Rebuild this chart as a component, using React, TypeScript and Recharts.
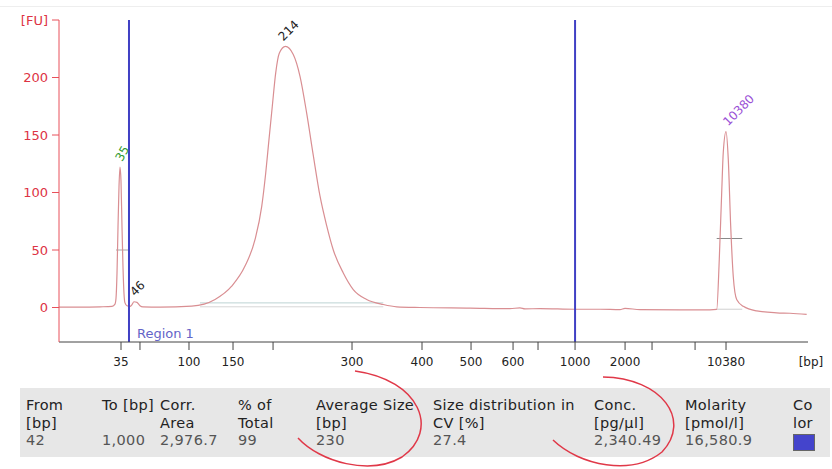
import {
  LineChart,
  Line,
  XAxis,
  YAxis,
  ReferenceLine,
  ReferenceDot,
} from "recharts";

// migration time [s] and fluorescence [FU]
const times = [
  40.0, 42.52, 44.93, 46.37, 46.73, 46.85, 46.97, 47.09, 47.21, 47.33, 47.45, 47.57, 47.69, 47.81,
  47.93, 48.17, 48.53, 48.77, 49.01, 49.37, 49.73, 50.09, 52.14, 55.95, 58.75, 60.75, 62.35, 63.55,
  64.36, 64.84, 65.23, 65.63, 66.04, 66.47, 67.2, 68.15, 68.96, 69.76, 70.56, 71.36, 72.17, 72.96,
  74.16, 75.36, 76.97, 78.97, 80.58, 83.38, 89.39, 94.19, 95.39, 95.99, 97.8, 102.0, 105.01, 107.41,
  108.01, 109.81, 114.62, 118.22, 119.03, 119.34, 119.63, 119.82, 120.15, 120.42, 120.71, 121.02,
  121.43, 122.23, 123.84, 126.24, 127.84, 129.84,
];
const fluorescence = [
  0.3, 0.3, 0.6, 1, 3, 8, 30, 70, 105, 122, 110, 70, 35, 12,
  4, 1.5, 1, 2.5, 5, 4.5, 1.5, 0.5, 0.3, 1.2, 7, 18.5, 36, 59,
  88, 117, 146, 175, 204, 221, 227, 220, 201, 169, 132, 97, 71, 50,
  30, 15.6, 7, 2.6, 0.6, 0, -0.5, -1, -0.3, -1.2, -1, -1.5, -1.5, -1.8,
  -0.8, -1.8, -2, -2, -1.7, 42, 100, 135, 153, 129, 71, 27,
  7, 1, -3, -4.6, -5, -6,
];

// ladder sizes and where they sit on the time axis
const ladderTimes = [47.45, 49.73, 55.62, 60.91, 65.72, 75.21, 83.62, 89.51, 94.56, 97.56, 102.01, 108.02, 111.26, 116.43, 120.15];
const ladderLabels = ["35", "", "100", "150", "", "300", "400", "500", "600", "", "1000", "2000", "", "", "10380"];

const yTicks = [0, 50, 100, 150, 200, 250];

const peakTimes = [47.33, 49.01, 67.2, 120.15];
const peakValues = [122, 5, 227, 153];
const peakLabels = ["35", "46", "214", "10380"];
const peakColors = ["#2e9a2e", "#222222", "#222222", "#9a4fd6"];
const peakAngles = [-60, -45, -45, -45];
const peakShift = [2, 1, -2, 2];

const regionBounds = [48.41, 102.01];

// half height markers and baselines
const markerSegments = [
  { x1: 46.85, x2: 48.53, y: 50, color: "#a8a8a8" },
  { x1: 119.03, x2: 122.1, y: 60, color: "#8a8a8a" },
  { x1: 56.94, x2: 78.97, y: 4, color: "#bcd3d3" },
  { x1: 56.94, x2: 78.97, y: 0.6, color: "#d6d6d6" },
  { x1: 119.03, x2: 122.1, y: -1.5, color: "#d0d0d0" },
];

const tableHeaders = [
  ["From", "[bp]"],
  ["To [bp]", ""],
  ["Corr.", "Area"],
  ["% of", "Total"],
  ["Average Size", "[bp]"],
  ["Size distribution in", "CV [%]"],
  ["Conc.", "[pg/µl]"],
  ["Molarity", "[pmol/l]"],
  ["Co", "lor"],
];
const tableValues = ["42", "1,000", "2,976.7", "99", "230", "27.4", "2,340.49", "16,580.9", ""];
const columnLeft = [26, 102, 160, 238, 316, 433, 594, 685, 793];

const data = times.map((t, i) => ({ t, fu: fluorescence[i] }));

const FONT = "'DejaVu Sans', Verdana, sans-serif";

export default function App() {
  return (
    <div style={{ position: "absolute", left: 0, top: 0, width: 832, height: 469, background: "#fff", fontFamily: FONT }}>
      <div style={{ position: "absolute", left: 0, top: 6, width: 832, borderTop: "1px solid #eeeeee" }} />
      <LineChart width={832} height={380} data={data} margin={{ top: 20, right: 24, left: 0, bottom: 0 }}>
        <XAxis
          type="number"
          dataKey="t"
          domain={[40, 130]}
          ticks={ladderTimes}
          interval={0}
          tickFormatter={(v: number) => ladderLabels[ladderTimes.indexOf(v)] ?? ""}
          tickSize={8}
          tickMargin={7}
          height={38}
          stroke="#444"
          tick={{ fill: "#222", fontSize: 12, fontFamily: FONT }}
          allowDataOverflow
          label={{
            content: (props: any) => {
              const vb = props.viewBox;
              return (
                <text x={vb.x + vb.width + 3} y={vb.y + 24} textAnchor="middle" fontSize={12} fill="#222" fontFamily={FONT}>
                  [bp]
                </text>
              );
            },
          }}
        />
        <YAxis
          type="number"
          domain={[-30, 250]}
          ticks={yTicks}
          interval={0}
          tickFormatter={(v: number) => (v === 250 ? "[FU]" : String(v))}
          width={59}
          tickSize={7}
          tickMargin={4}
          stroke="#e8505a"
          tick={{ fill: "#dd3344", fontSize: 13, fontFamily: FONT }}
          allowDataOverflow
        />
        {markerSegments.map((s, i) => (
          <ReferenceLine
            key={`seg-${i}`}
            segment={[{ x: s.x1, y: s.y }, { x: s.x2, y: s.y }]}
            stroke={s.color}
            strokeWidth={1}
          />
        ))}
        <Line
          type="monotone"
          dataKey="fu"
          stroke="#d98e92"
          strokeWidth={1.2}
          dot={false}
          isAnimationActive={false}
        />
        {regionBounds.map((x, i) => (
          <ReferenceLine
            key={`region-${i}`}
            x={x}
            stroke="#4040c4"
            strokeWidth={2}
            label={
              i === 0
                ? {
                    content: (props: any) => {
                      const vb = props.viewBox;
                      return (
                        <text x={vb.x + 8} y={vb.y + vb.height - 4} fontSize={13} fill="#6464c8" fontFamily={FONT}>
                          Region 1
                        </text>
                      );
                    },
                  }
                : undefined
            }
          />
        ))}
        {peakTimes.map((t, i) => (
          <ReferenceDot
            key={`peak-${i}`}
            x={t}
            y={peakValues[i]}
            r={0}
            shape={(props: any) => {
              const x = props.cx + peakShift[i];
              const y = props.cy - 5;
              return (
                <text
                  x={x}
                  y={y}
                  transform={`rotate(${peakAngles[i]} ${x} ${y})`}
                  fontSize={12}
                  fill={peakColors[i]}
                  fontFamily={FONT}
                >
                  {peakLabels[i]}
                </text>
              );
            }}
          />
        ))}
      </LineChart>

      <div style={{ position: "absolute", left: 20, top: 388, width: 810, height: 69, background: "#e7e7e7" }} />
      {tableHeaders.map((h, i) => (
        <div
          key={`col-${i}`}
          style={{
            position: "absolute",
            left: columnLeft[i],
            top: 397,
            fontSize: 14.5,
            letterSpacing: 0.35,
            lineHeight: "17.5px",
            whiteSpace: "pre",
          }}
        >
          <div style={{ color: "#222" }}>{h[0]}</div>
          <div style={{ color: "#222" }}>{h[1] || "\u00a0"}</div>
          {i === tableHeaders.length - 1 ? (
            <div style={{ marginTop: 2, width: 20, height: 15, background: "#4444cc", border: "1px solid #666" }} />
          ) : (
            <div style={{ color: "#555" }}>{tableValues[i]}</div>
          )}
        </div>
      ))}

      <svg width={832} height={469} style={{ position: "absolute", left: 0, top: 0, pointerEvents: "none" }}>
        <path d="M 355 371 C 420 380, 440 430, 402 457 C 370 476, 320 462, 298 438" fill="none" stroke="#e03848" strokeWidth={1.5} />
        <path d="M 603 377 C 662 378, 692 420, 662 452 C 632 476, 580 466, 553 440" fill="none" stroke="#e03848" strokeWidth={1.5} />
      </svg>
    </div>
  );
}
